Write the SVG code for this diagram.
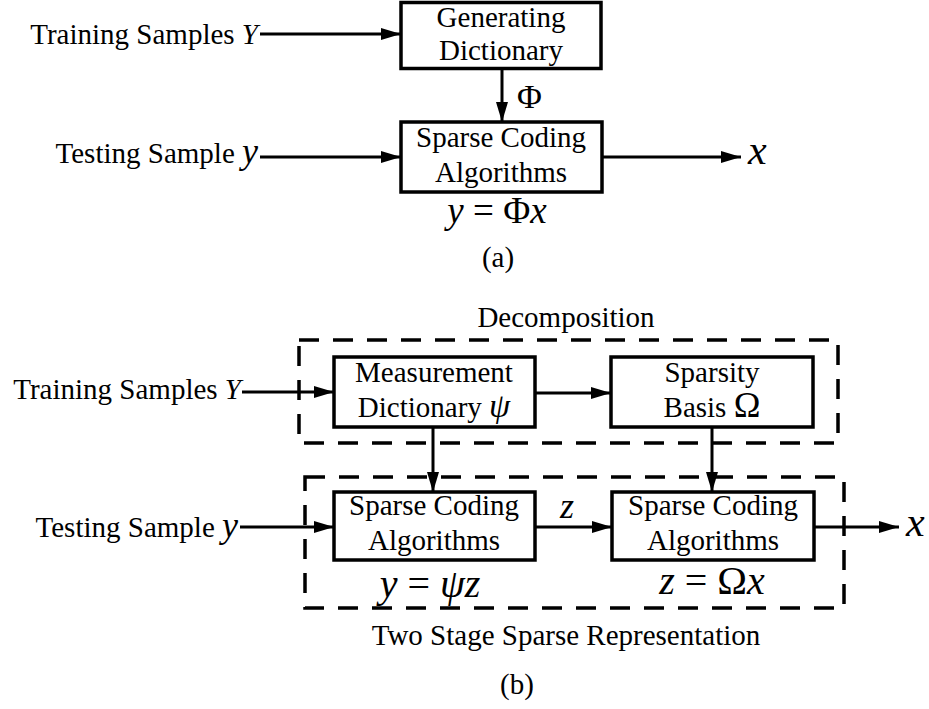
<svg xmlns="http://www.w3.org/2000/svg" width="929" height="709" viewBox="0 0 929 709">
<style>
text{font-family:"Liberation Serif","Times New Roman",serif;font-size:29px;fill:#000}
.c{text-anchor:middle}
.e{text-anchor:end}
.i{font-style:italic}
.box{fill:#fff;stroke:#000;stroke-width:3.5}
.dash{fill:none;stroke:#000;stroke-width:3.5;stroke-dasharray:20 14}
.ln{stroke:#000;stroke-width:3;fill:none;marker-end:url(#ah)}
</style>
<defs>
<marker id="ah" viewBox="0 0 20 12" refX="20" refY="6" markerWidth="20" markerHeight="12" markerUnits="userSpaceOnUse" orient="auto">
<path d="M0,0 L20,6 L0,12 z" fill="#000"/>
</marker>
</defs>

<!-- (a) -->
<g id="label-train-a"><text class="e" x="258" y="44">Training Samples <tspan class="i">Y</tspan></text></g>
<g id="label-test-a"><text class="e" x="258" y="163">Testing Sample <tspan class="i" style="font-size:36px">y</tspan></text></g>
<g id="gen-dict">
<rect class="box" x="401" y="2.5" width="200" height="66"/>
<text class="c" x="501" y="27">Generating</text>
<text class="c" x="501" y="60">Dictionary</text>
</g>
<g id="sparse-a">
<rect class="box" x="401" y="122" width="201" height="70"/>
<text class="c" x="501" y="147">Sparse Coding</text>
<text class="c" x="501" y="182">Algorithms</text>
<text class="c" x="497" y="223" style="font-size:37px"><tspan class="i">y</tspan> = Φ<tspan class="i">x</tspan></text>
</g>
<g id="out-a"><text class="i" x="748" y="164" style="font-size:42px">x</text></g>
<text x="517" y="108" style="font-size:34px">Φ</text>
<text class="c" x="498" y="267">(a)</text>

<!-- (b) -->
<g id="decomposition">
<rect class="dash" x="299" y="340" width="539" height="103"/>
<text class="c" x="566" y="327">Decomposition</text>
</g>
<g id="two-stage">
<rect class="dash" x="305" y="477" width="539" height="131"/>
<text class="c" x="566" y="645">Two Stage Sparse Representation</text>
</g>
<g id="label-train-b"><text class="e" x="241" y="399">Training Samples <tspan class="i">Y</tspan></text></g>
<g id="label-test-b"><text class="e" x="238" y="537">Testing Sample <tspan class="i" style="font-size:36px">y</tspan></text></g>
<g id="measure">
<rect class="box" x="334" y="357" width="201" height="70"/>
<text class="c" x="434" y="382">Measurement</text>
<text class="c" x="434" y="417">Dictionary <tspan class="i" style="font-size:34px">ψ</tspan></text>
</g>
<g id="sparsity">
<rect class="box" x="611" y="357" width="202" height="70"/>
<text class="c" x="712" y="382">Sparsity</text>
<text class="c" x="712" y="417">Basis <tspan style="font-size:36px">Ω</tspan></text>
</g>
<g id="sparse-b1">
<rect class="box" x="334" y="492" width="201" height="68"/>
<text class="c" x="434" y="515">Sparse Coding</text>
<text class="c" x="434" y="550">Algorithms</text>
<text class="c" x="430" y="597" style="font-size:40px"><tspan class="i">y</tspan> = <tspan class="i">ψz</tspan></text>
</g>
<g id="sparse-b2">
<rect class="box" x="612" y="492" width="202" height="68"/>
<text class="c" x="713" y="515">Sparse Coding</text>
<text class="c" x="713" y="550">Algorithms</text>
<text class="c" x="712" y="594" style="font-size:40px"><tspan class="i">z</tspan> = Ω<tspan class="i">x</tspan></text>
</g>
<g id="out-b"><text class="i" x="906" y="536" style="font-size:42px">x</text></g>
<text class="i" x="560" y="518" style="font-size:36px">z</text>
<text class="c" x="517" y="694">(b)</text>

<g id="connectors">
<line class="ln" x1="260" y1="34" x2="401" y2="34"/>
<line class="ln" x1="260" y1="157" x2="401" y2="157"/>
<line class="ln" x1="502" y1="69" x2="502" y2="122"/>
<line class="ln" x1="602" y1="157" x2="741" y2="157"/>
<line class="ln" x1="242" y1="392" x2="334" y2="392"/>
<line class="ln" x1="535" y1="393" x2="611" y2="393"/>
<line class="ln" x1="433" y1="427" x2="433" y2="492"/>
<line class="ln" x1="712" y1="427" x2="712" y2="492"/>
<line class="ln" x1="240" y1="527" x2="334" y2="527"/>
<line class="ln" x1="535" y1="527" x2="612" y2="527"/>
<line class="ln" x1="814" y1="527" x2="899" y2="527"/>
</g>
</svg>
